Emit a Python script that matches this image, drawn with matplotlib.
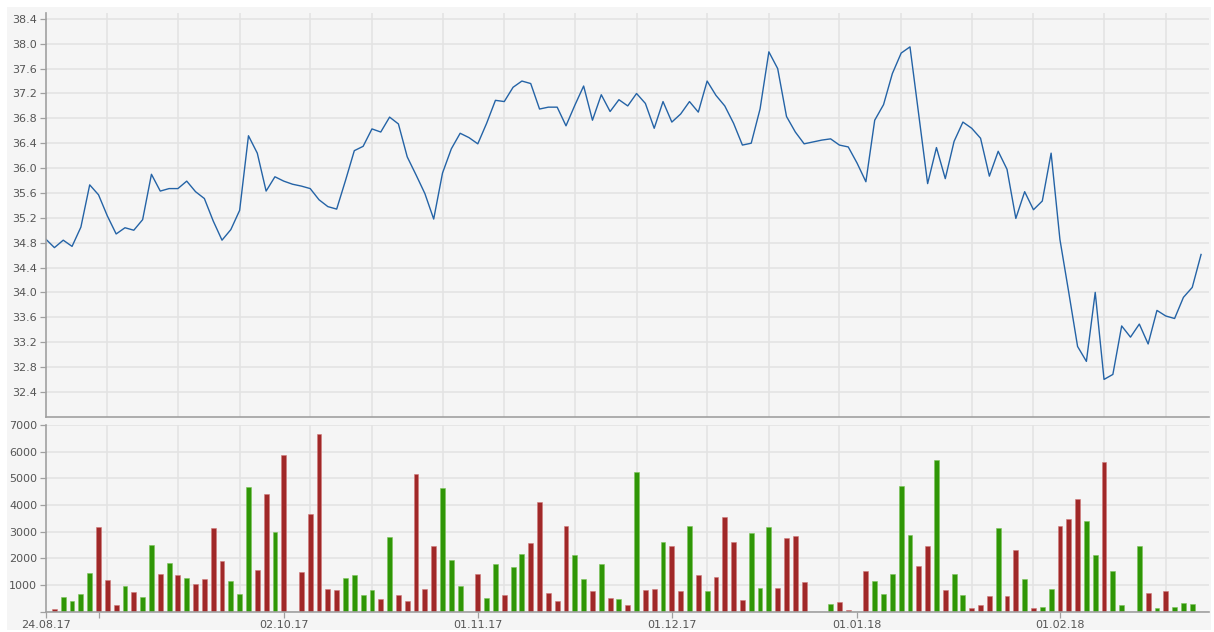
import numpy as np
import pandas as pd
import matplotlib
matplotlib.use("Agg")
import matplotlib.pyplot as plt
from matplotlib.patches import Rectangle

start_date = "2017-08-24"

close_prices = [
    34.86, 34.72, 34.84, 34.74, 35.05, 35.73, 35.57, 35.23, 34.94, 35.04,
    35.00, 35.17, 35.90, 35.63, 35.67, 35.67, 35.79, 35.62, 35.51, 35.15,
    34.84, 35.01, 35.32, 36.52, 36.24, 35.63, 35.86, 35.79, 35.74, 35.71,
    35.67, 35.49, 35.38, 35.34, 35.80, 36.28, 36.35, 36.63, 36.58, 36.82,
    36.71, 36.18, 35.89, 35.59, 35.18, 35.92, 36.31, 36.56, 36.49, 36.39,
    36.72, 37.09, 37.07, 37.30, 37.40, 37.36, 36.95, 36.98, 36.98, 36.68,
    37.01, 37.32, 36.77, 37.18, 36.91, 37.10, 37.00, 37.20, 37.04, 36.64,
    37.07, 36.74, 36.87, 37.07, 36.90, 37.40, 37.17, 37.00, 36.72, 36.37,
    36.40, 36.95, 37.87, 37.60, 36.83, 36.58, 36.39, 36.42, 36.45, 36.47,
    36.37, 36.34, 36.08, 35.78, 36.77, 37.02, 37.52, 37.85, 37.95, 36.85,
    35.75, 36.33, 35.83, 36.43, 36.74, 36.64, 36.48, 35.87, 36.27, 35.98,
    35.19, 35.62, 35.33, 35.47, 36.24, 34.85, 34.00, 33.13, 32.89, 34.00,
    32.60, 32.68, 33.46, 33.28, 33.49, 33.17, 33.71, 33.62, 33.58, 33.92,
    34.08, 34.61,
]

volumes = [
    0, 100, 560, 390, 675, 1460, 3175, 1190, 240, 950,
    725, 560, 2510, 1425, 1840, 1390, 1275, 1050, 1225, 3125,
    1900, 1140, 675, 4690, 1560, 4400, 2990, 5875, 0, 1475,
    3650, 6650, 860, 810, 1275, 1375, 610, 810, 475, 2790,
    610, 390, 5160, 860, 2460, 4650, 1940, 950, 0, 1425,
    525, 1800, 625, 1660, 2175, 2560, 4125, 710, 390, 3225,
    2140, 1240, 760, 1800, 525, 475, 240, 5225, 810, 860,
    2600, 2460, 760, 3225, 1390, 760, 1290, 3560, 2600, 425,
    2940, 900, 3175, 900, 2750, 2840, 1100, 0, 0, 290,
    350, 50, 0, 1510, 1140, 675, 1425, 4725, 2890, 1710,
    2460, 5675, 810, 1425, 625, 150, 240, 575, 3125, 575,
    2325, 1240, 150, 190, 860, 3225, 3460, 4210, 3410, 2140,
    5600, 1510, 240, 0, 2460, 710, 150, 760, 190, 340,
    290, 0,
]

# u = green day, d = red day, - = no trades
bar_direction = (
    "-duuuudddu" "duudududdd" "duuuddud-d" "dddduuuudu" "ddddduuu-d"
    "uuduuddddd" "uududududd" "uddududddd" "uuudddd--u" "dd-duuuuud"
    "duduudddud" "duduuddduu" "duu-ududuu" "u-"
)

price_ticks = np.arange(32.4, 38.41, 0.4)
volume_ticks = np.arange(0, 7001, 1000)

W, H = 1214, 632
BG = "#f5f5f5"
GRID = "#e3e3e3"
SPINE = "#a0a0a0"
TEXT = "#555555"
LINE = "#2463a6"
UP = "#2f9606"
DOWN = "#a02828"


def style_axes(ax):
    ax.set_facecolor(BG)
    for side in ("top", "right"):
        ax.spines[side].set_visible(False)
    for side in ("left", "bottom"):
        ax.spines[side].set_color(SPINE)
        ax.spines[side].set_linewidth(1.2)
    ax.tick_params(axis="both", which="major", colors=SPINE, labelcolor=TEXT,
                   labelsize=8, length=4, width=0.9, pad=2)
    ax.tick_params(axis="x", which="minor", length=0)
    ax.grid(True, which="minor", axis="x", color=GRID, linewidth=1.2)
    ax.grid(True, which="major", axis="y", color=GRID, linewidth=1.2)
    ax.set_axisbelow(True)


def main():
    n = len(close_prices)
    assert len(volumes) == n and len(bar_direction) == n
    x = np.arange(n)
    dates = pd.bdate_range(start_date, periods=n)

    # month starts get a labelled tick, first day is labelled too
    month_start = [i for i in range(1, n) if dates[i].month != dates[i - 1].month]
    tick_pos = [0] + month_start
    tick_lab = [dates[0].strftime("%d.%m.%y")]
    for i in month_start:
        tick_lab.append("" if i < 10 else dates[i].strftime("%d.%m.%y"))

    grid_pos = np.ceil(7 + 7.5 * np.arange(17))
    xlim = (0, 131.9)

    fig = plt.figure(figsize=(W / 100, H / 100), dpi=100)
    fig.patch.set_facecolor("white")
    fig.add_artist(Rectangle((7 / W, 2 / H), (1211 - 7) / W, (625 - 2) / H,
                             transform=fig.transFigure, facecolor=BG,
                             edgecolor="none", zorder=0))

    left = 45.6 / W
    width = (1209 - 45.6) / W
    ax1 = fig.add_axes([left, 1 - 416.7 / H, width, (416.7 - 13.3) / H])
    ax2 = fig.add_axes([left, 1 - 611.7 / H, width, (611.7 - 425) / H])

    # price line
    style_axes(ax1)
    ax1.plot(x, close_prices, color=LINE, linewidth=1.0)
    ax1.set_xlim(xlim)
    ax1.set_ylim(32.0, 38.49)
    ax1.set_yticks(price_ticks)
    ax1.set_yticklabels([f"{v:.1f}" for v in price_ticks])
    ax1.set_xticks([])
    ax1.set_xticks(grid_pos, minor=True)

    # volume bars
    style_axes(ax2)
    vol = np.array(volumes)
    colors = [UP if c == "u" else DOWN for c in bar_direction]
    edges = ["#7cc45a" if c == "u" else "#d07a7a" for c in bar_direction]
    mask = vol > 0
    ax2.bar(x[mask], vol[mask], width=0.55,
            color=[c for c, m in zip(colors, mask) if m],
            edgecolor=[c for c, m in zip(edges, mask) if m], linewidth=0.4)
    ax2.set_xlim(xlim)
    ax2.set_ylim(0, 7000)
    ax2.set_yticks(volume_ticks)
    ax2.set_yticklabels([""] + [str(v) for v in volume_ticks[1:]])
    ax2.set_xticks(tick_pos)
    ax2.set_xticklabels(tick_lab)
    ax2.set_xticks(grid_pos, minor=True)

    fig.savefig("out.png", dpi=100, facecolor="white")


if __name__ == "__main__":
    main()
